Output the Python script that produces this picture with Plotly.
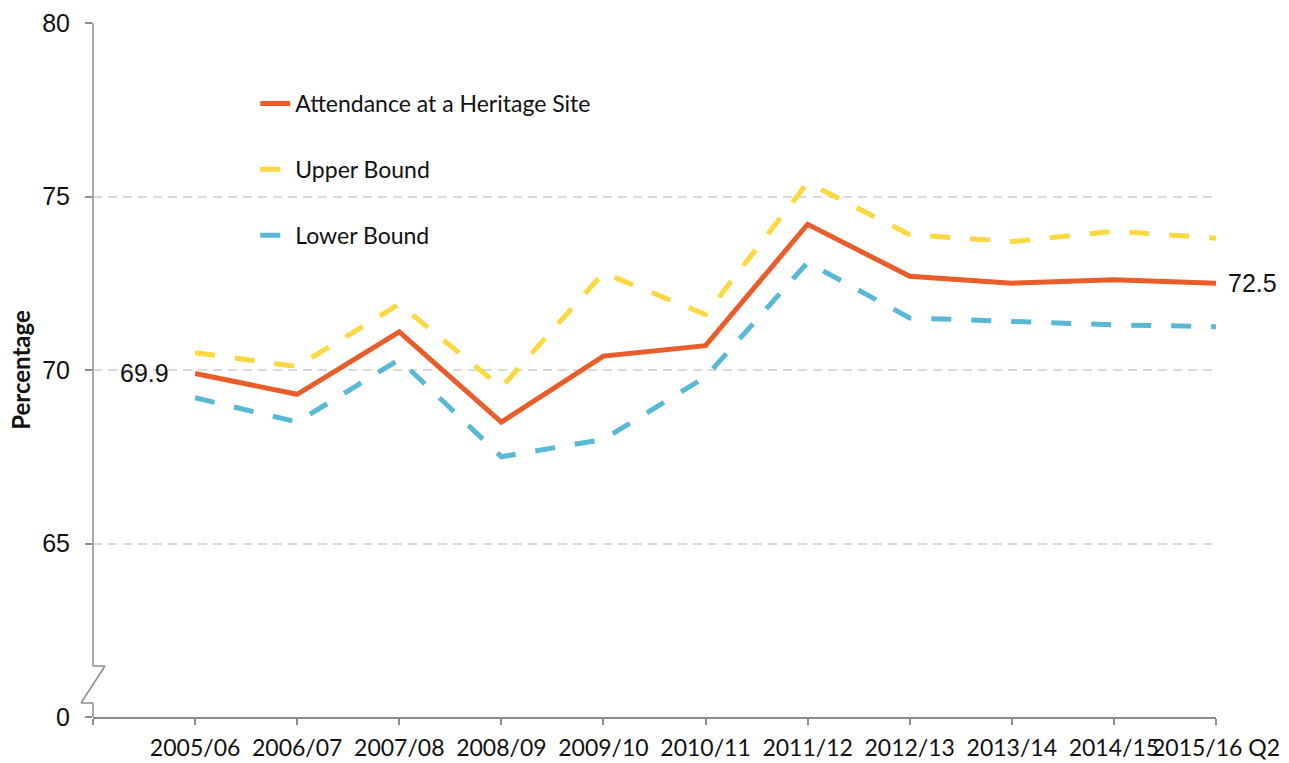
import plotly.graph_objects as go

categories = ["2005/06", "2006/07", "2007/08", "2008/09", "2009/10", "2010/11",
              "2011/12", "2012/13", "2013/14", "2014/15", "2015/16 Q2"]
attendance = [69.9, 69.3, 71.1, 68.5, 70.4, 70.7, 74.2, 72.7, 72.5, 72.6, 72.5]
upper_bound = [70.5, 70.1, 71.9, 69.5, 72.8, 71.6, 75.4, 73.9, 73.7, 74.0, 73.8]
lower_bound = [69.2, 68.5, 70.3, 67.5, 68.0, 69.8, 73.1, 71.5, 71.4, 71.3, 71.25]
y_tick_values = [60, 65, 70, 75, 80]
y_tick_labels = ["0", "65", "70", "75", "80"]

x_idx = list(range(len(categories)))

ORANGE = "#E95D2A"
YELLOW = "#FDD83E"
BLUE = "#58B8D5"
AXIS = "#8C8C8C"

fig = go.Figure()
fig.add_trace(go.Scatter(x=x_idx, y=attendance, mode="lines", name="Attendance at a Heritage Site",
                         line=dict(color=ORANGE, width=5), legendgroup="a"))
fig.add_trace(go.Scatter(x=x_idx, y=upper_bound, mode="lines", name="Upper Bound",
                         line=dict(color=YELLOW, width=5, dash="20px,20px"), legendgroup="b"))
fig.add_trace(go.Scatter(x=x_idx, y=lower_bound, mode="lines", name="Lower Bound",
                         line=dict(color=BLUE, width=5, dash="20px,20px"), legendgroup="c"))

fig.add_annotation(x=x_idx[0], y=attendance[0], text=f"{attendance[0]:.1f}", showarrow=False,
                   xanchor="right", xshift=-24, font=dict(family="Liberation Sans, Arial", size=25, color="#111"))
fig.add_annotation(x=x_idx[-1], y=attendance[-1], text=f"{attendance[-1]:.1f}", showarrow=False,
                   xanchor="left", xshift=10, font=dict(family="Liberation Sans, Arial", size=25, color="#111"))

# y-axis line with break marker
pw = 1216 - 93
px = 1.0 / pw
yb_top = 80 - (666 - 23) / 34.7
yb_bot = 80 - (703 - 23) / 34.7
segs = [
    (0, 80, 0, yb_top),
    (0, yb_top, 12 * px, yb_top),
    (12 * px, yb_top, -12 * px, yb_bot),
    (-12 * px, yb_bot, 0, yb_bot),
    (0, yb_bot, 0, 60),
]
for x0, y0, x1, y1 in segs:
    fig.add_shape(type="line", xref="paper", yref="y", x0=x0, y0=y0, x1=x1, y1=y1,
                  line=dict(color=AXIS, width=1.5), layer="above")

fig.update_layout(
    width=1289, height=763,
    margin=dict(l=93, r=73, t=23, b=46, autoexpand=False),
    paper_bgcolor="white", plot_bgcolor="white",
    showlegend=True,
    legend=dict(x=0.1445, y=0.915, xanchor="left", yanchor="top", bgcolor="rgba(0,0,0,0)",
                font=dict(family="Lato", size=23, color="#111"), tracegroupgap=33,
                itemwidth=30),
    xaxis=dict(range=[-1, 10], tickmode="array", tickvals=[-1] + x_idx, ticktext=[""] + categories,
               tickangle=0, showgrid=False, zeroline=False, showline=True, linecolor=AXIS, linewidth=1.5,
               ticks="outside", ticklen=6, tickcolor=AXIS, tickwidth=1.5, ticklabelstandoff=4,
               automargin=False,
               tickfont=dict(family="Lato", size=23, color="#111")),
    yaxis=dict(range=[60, 80], tickmode="array", tickvals=y_tick_values, ticktext=y_tick_labels,
               showgrid=True, gridcolor="#D9D9D9", gridwidth=1.5, griddash="9px,6px",
               zeroline=False, showline=False, ticks="outside", ticklen=7, tickcolor=AXIS, tickwidth=1.5,
               ticklabelstandoff=10, automargin=False,
               tickfont=dict(family="Liberation Sans, Arial", size=25, color="#111")),
)
fig.update_yaxes(title=dict(text="<b>Percentage</b>", standoff=4,
                            font=dict(family="Lato", size=24, color="#111")))

post = ("document.documentElement.style.margin='0';document.documentElement.style.padding='0';"
        "document.documentElement.style.overflow='hidden';"
        "document.body.style.margin='0';document.body.style.padding='0';"
        "document.body.style.overflow='hidden';"
        "var gd=document.getElementById('{plot_id}');gd.style.display='block';"
        "if(gd.parentElement){gd.parentElement.style.height='763px';gd.parentElement.style.overflow='hidden';}")

fig.write_html("out.html", config={"displayModeBar": False}, post_script=post)
